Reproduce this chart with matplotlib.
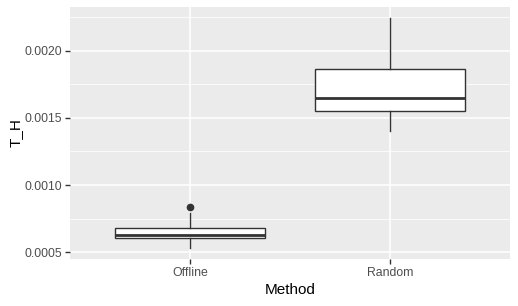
import matplotlib
matplotlib.use("Agg")
import matplotlib.pyplot as plt
from matplotlib.ticker import MultipleLocator

plt.rcParams['font.family'] = ['Liberation Sans', 'DejaVu Sans']

# box stats
methods = ["Offline", "Random"]
whislo = [0.000533, 0.001405]
q1 = [0.000603, 0.00155]
med = [0.00063, 0.001649]
q3 = [0.000677, 0.001863]
whishi = [0.000791, 0.002246]
fliers = [[0.000834], []]

stats = []
for i, m in enumerate(methods):
    stats.append(dict(label=m, whislo=whislo[i], q1=q1[i], med=med[i],
                      q3=q3[i], whishi=whishi[i], fliers=fliers[i]))

fig = plt.figure(figsize=(5.18, 3.06), dpi=100)
ax = fig.add_axes([70/518, (306-259)/306, 440/518, 252/306])
ax.set_facecolor('#EBEBEB')

ax.yaxis.set_major_locator(MultipleLocator(0.0005))
ax.yaxis.set_minor_locator(MultipleLocator(0.00025))
ax.grid(True, which='major', color='white', linewidth=1.1)
ax.grid(True, which='minor', axis='y', color='white', linewidth=0.55)
ax.set_axisbelow(True)

ec = '#333333'
ax.bxp(stats, positions=[1, 2], widths=0.75, patch_artist=True, showcaps=False,
       boxprops=dict(facecolor='white', edgecolor=ec, linewidth=1.0),
       medianprops=dict(color=ec, linewidth=2.0),
       whiskerprops=dict(color=ec, linewidth=1.0),
       flierprops=dict(marker='o', markerfacecolor=ec, markeredgecolor=ec,
                       markersize=4.5, linestyle='none'))

ax.set_xlim(0.4, 2.6)
ax.set_ylim(0.000448, 0.002328)
ax.set_xticks([1, 2])
ax.set_xticklabels(methods)
ax.yaxis.set_major_formatter(matplotlib.ticker.FormatStrFormatter('%.4f'))

for s in ax.spines.values():
    s.set_visible(False)
ax.tick_params(which='major', length=3.8, width=1.0, color='#333333',
               labelcolor='#4D4D4D', labelsize=8.8, pad=2)
ax.tick_params(which='minor', length=0)

ax.set_xlabel('Method', fontsize=11, color='black', labelpad=3)
ax.set_ylabel('T_H', fontsize=11, color='black', labelpad=1)

fig.savefig('out.png', dpi=100)
